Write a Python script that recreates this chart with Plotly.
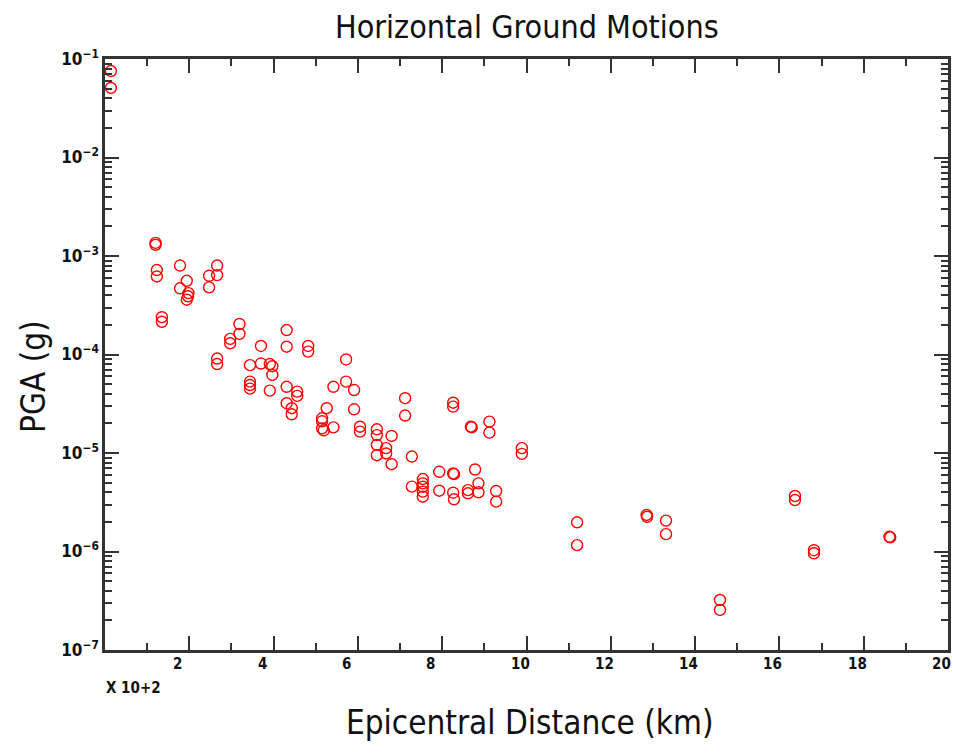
import plotly.graph_objects as go

# Epicentral distance (km) and horizontal peak ground acceleration (g)
distance_km = [
    14, 14,
    120, 120, 123, 123, 135, 135,
    178, 178, 194, 198, 197, 194,
    247, 247, 266, 266, 266, 266,
    297, 297, 319, 319,
    344, 344, 344, 344,
    370, 370, 391, 397, 397, 391,
    431, 431, 431, 431, 443, 443, 456, 456,
    482, 482, 515, 515, 515, 519, 526, 542, 542,
    572, 572, 591, 591, 605, 605,
    645, 645, 645, 645, 667, 667, 680, 680,
    712, 712, 728, 728,
    754, 754, 754, 754, 754,
    793, 793, 826, 826, 826, 828, 826, 828,
    861, 861, 868, 870, 878, 886, 886,
    912, 912, 928, 928, 989, 989,
    1120, 1120, 1285, 1286, 1331, 1331,
    1459, 1459, 1637, 1637, 1682, 1682, 1861, 1863,
]
pga_g = [
    0.0755, 0.0508,
    1.36e-3, 1.30e-3, 7.2e-4, 6.2e-4, 2.39e-4, 2.15e-4,
    8.0e-4, 4.7e-4, 5.6e-4, 4.2e-4, 3.9e-4, 3.6e-4,
    6.3e-4, 4.8e-4, 8.0e-4, 6.4e-4, 9.1e-5, 8.0e-5,
    1.44e-4, 1.30e-4, 2.04e-4, 1.62e-4,
    7.8e-5, 5.3e-5, 4.9e-5, 4.5e-5,
    1.22e-4, 8.1e-5, 8.0e-5, 7.6e-5, 6.2e-5, 4.3e-5,
    1.77e-4, 1.20e-4, 4.7e-5, 3.2e-5, 2.85e-5, 2.47e-5, 4.2e-5, 3.8e-5,
    1.22e-4, 1.07e-4, 2.25e-5, 2.1e-5, 1.78e-5, 1.7e-5, 2.85e-5, 4.7e-5, 1.82e-5,
    8.9e-5, 5.3e-5, 4.36e-5, 2.78e-5, 1.85e-5, 1.65e-5,
    1.74e-5, 1.52e-5, 1.21e-5, 9.5e-6, 1.12e-5, 9.9e-6, 1.49e-5, 7.7e-6,
    3.6e-5, 2.4e-5, 9.2e-6, 4.56e-6,
    5.44e-6, 4.92e-6, 4.55e-6, 4.05e-6, 3.6e-6,
    6.45e-6, 4.14e-6, 3.24e-5, 2.96e-5, 6.2e-6, 6.1e-6, 3.95e-6, 3.39e-6,
    4.2e-6, 3.9e-6, 1.85e-5, 1.82e-5, 6.8e-6, 4.92e-6, 3.99e-6,
    2.08e-5, 1.61e-5, 4.11e-6, 3.21e-6, 1.12e-5, 9.8e-6,
    1.98e-6, 1.16e-6, 2.35e-6, 2.25e-6, 2.06e-6, 1.5e-6,
    3.22e-7, 2.55e-7, 3.66e-6, 3.33e-6, 1.03e-6, 9.6e-7, 1.41e-6, 1.39e-6,
]

x_ticks = [2, 4, 6, 8, 10, 12, 14, 16, 18, 20]
x_tick_labels = [str(v) for v in x_ticks]
y_decades = [-7, -6, -5, -4, -3, -2, -1]
y_tick_labels = ["10<sup>\u2212%d</sup>" % (-e) for e in y_decades]

# Distances are plotted in units of 100 km
x_scaled = [d / 100.0 for d in distance_km]

label_font = "DejaVu Sans Condensed, DejaVu Sans, sans-serif"
tick_font = "DejaVu Sans Condensed, DejaVu Sans, sans-serif"
axis_color = "#333333"
text_color = "#111111"

fig = go.Figure()
fig.add_trace(go.Scatter(
    x=x_scaled, y=pga_g, mode="markers",
    marker=dict(symbol="circle-open", size=11, color="#ff0000",
                line=dict(width=1.4, color="#ff0000")),
    showlegend=False, cliponaxis=False,
))

y_minor = [m * 10.0 ** e for e in y_decades[:-1] for m in range(2, 10)]

fig.update_xaxes(
    range=[0, 20], tickmode="array", tickvals=x_ticks, showticklabels=False,
    ticks="inside", ticklen=14, tickwidth=1.5, tickcolor=axis_color,
    minor=dict(tickmode="array", tickvals=list(range(1, 20, 2)),
               ticks="inside", ticklen=7, tickwidth=1.5, tickcolor=axis_color),
    showline=True, linewidth=2.5, linecolor=axis_color, mirror="allticks",
    showgrid=False, zeroline=False, automargin=False,
)
fig.update_yaxes(
    type="log", range=[-7, -1], tickmode="array",
    tickvals=[10.0 ** e for e in y_decades], ticktext=y_tick_labels,
    ticks="inside", ticklen=14, tickwidth=1.5, tickcolor=axis_color,
    minor=dict(tickmode="array", tickvals=y_minor,
               ticks="inside", ticklen=7, tickwidth=1.5, tickcolor=axis_color),
    showline=True, linewidth=2.5, linecolor=axis_color, mirror="allticks",
    showgrid=False, zeroline=False, ticklabeloverflow="allow", automargin=False,
    tickfont=dict(family=tick_font, size=17, color=text_color, weight="bold"),
)

fig.update_layout(
    width=953, height=756,
    margin=dict(l=105, r=5, t=59, b=106, autoexpand=False),
    paper_bgcolor="white", plot_bgcolor="white",
)

# Distance tick labels sit just left of their tick marks, left-aligned
for val, lab in zip(x_ticks, x_tick_labels):
    fig.add_annotation(
        text=lab, x=val, xref="x", y=0, yref="paper", yshift=-14, xshift=-18,
        xanchor="left", yanchor="middle", showarrow=False,
        font=dict(family=tick_font, size=15, color=text_color, weight="bold"),
    )

# Text placed in pixel terms relative to the plot frame
plot_h = 756 - 59 - 106
plot_w = 953 - 105 - 5


def px_to_paper(px, py):
    return (px - 105) / plot_w, (756 - 106 - py) / plot_h


texts = [
    ("Horizontal Ground Motions", 527, 27, 0, label_font, 32, "normal"),
    ("Epicentral Distance (km)", 530, 722, 0, label_font, 33, "normal"),
    ("PGA (g)", 33, 377, -90, label_font, 33, "normal"),
    ("X 10+2", 133, 688, 0, tick_font, 15, "bold"),
]
for text, px, py, angle, family, size, weight in texts:
    ax, ay = px_to_paper(px, py)
    fig.add_annotation(
        text=text, x=ax, y=ay, xref="paper", yref="paper",
        xanchor="center", yanchor="middle", textangle=angle, showarrow=False,
        font=dict(family=family, size=size, color=text_color, weight=weight),
    )

fig.write_html("out.html")
